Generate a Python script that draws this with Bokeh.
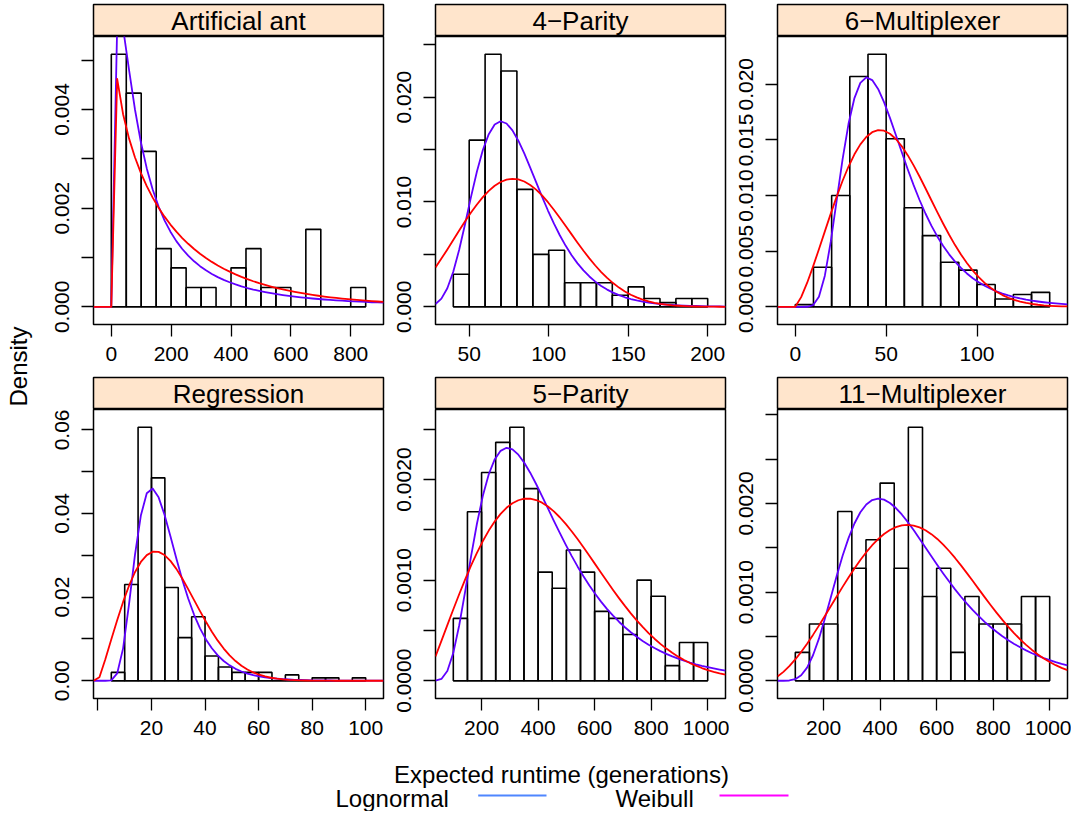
import numpy as np
from bokeh.plotting import figure
from bokeh.layouts import row, column
from bokeh.models import Range1d, FixedTicker, PrintfTickFormatter
from bokeh.core.properties import value
from bokeh.embed import file_html
from bokeh.resources import INLINE

FONT = "Liberation Sans"

# ---------------- data ----------------
panel_names = ["Artificial ant", "4\u2212Parity", "6\u2212Multiplexer",
               "Regression", "5\u2212Parity", "11\u2212Multiplexer"]

hist_start = [0, 40, 0, 5, 100, 100]
hist_width = [50, 10, 10, 5, 50, 50]

ant_density = [0.00512, 0.00433, 0.00315, 0.00118, 0.00079, 0.00039, 0.00039, 0.0,
               0.00079, 0.00118, 0.00039, 0.00039, 0.0, 0.00157, 0.0, 0.0, 0.00039]
parity4_density = [0.0031, 0.0159, 0.0241, 0.0225, 0.0112, 0.0050, 0.0054, 0.0023,
                   0.0023, 0.0023, 0.0011, 0.0019, 0.0008, 0.0004, 0.0008, 0.0008]
mux6_density = [0.0002, 0.00355, 0.0100, 0.0207, 0.0227, 0.0151, 0.0089, 0.0064,
                0.0040, 0.0033, 0.0020, 0.0007, 0.0011, 0.0013]
regression_density = [0.0020, 0.0230, 0.0606, 0.0485, 0.0223, 0.0103, 0.0153, 0.0059,
                      0.0033, 0.0020, 0.0020, 0.0020, 0.0, 0.0014, 0.0, 0.0007, 0.0007,
                      0.0, 0.0007]
parity5_density = [0.00062, 0.00168, 0.00207, 0.00237, 0.00252, 0.00191, 0.00108, 0.00092,
                   0.00130, 0.00108, 0.00069, 0.00062, 0.00046, 0.00100, 0.00084, 0.00015,
                   0.00038, 0.00038]
mux11_density = [0.00032, 0.00064, 0.00064, 0.00191, 0.00127, 0.00159, 0.00223, 0.00127,
                 0.00286, 0.00095, 0.00127, 0.00032, 0.00095, 0.00064, 0.00064, 0.00064,
                 0.00095, 0.00095]
densities = [ant_density, parity4_density, mux6_density,
             regression_density, parity5_density, mux11_density]

# fitted distributions (parameters estimated from the drawn curves)
lognormal_meanlog = [4.75, 4.343, 3.873, 3.156, 5.941, 6.175]
lognormal_sdlog = [1.20, 0.307, 0.444, 0.400, 0.518, 0.446]
weibull_shape = [0.90, 2.80, 2.30, 2.13, 2.11, 2.62]
weibull_scale = [222.0, 90.75, 59.6, 28.95, 491.0, 596.5]

x_ticks = [[0, 200, 400, 600, 800], [50, 100, 150, 200], [0, 50, 100],
           [20, 40, 60, 80, 100], [200, 400, 600, 800, 1000], [200, 400, 600, 800, 1000]]
x_minor_ticks = [[], [], [], [0], [], []]
y_ticks = [[0, 0.002, 0.004], [0, 0.01, 0.02], [0, 0.005, 0.01, 0.015, 0.02],
           [0, 0.02, 0.04, 0.06], [0, 0.001, 0.002], [0, 0.001, 0.002]]
y_minor_ticks = [[0.001, 0.003, 0.005], [0.005, 0.015, 0.025], [],
                 [0.01, 0.03, 0.05], [0.0005, 0.0015, 0.0025],
                 [0.0005, 0.0015, 0.0025, 0.003]]
y_label_format = ["%.3f", "%.3f", "%.3f", "%.2f", "%.4f", "%.4f"]

x_title = "Expected runtime (generations)"
y_title = "Density"
legend_labels = ["Lognormal", "Weibull"]
legend_colors = ["#4f86ff", "#ff00ff"]

LOGN_COLOR = "#6000ff"
WEIB_COLOR = "#ff0000"
STRIP_BG = "#ffe5cc"


def lognormal_pdf(x, mu, s):
    out = np.zeros_like(x)
    pos = x > 0
    xp = x[pos]
    out[pos] = np.exp(-(np.log(xp) - mu) ** 2 / (2 * s * s)) / (xp * s * np.sqrt(2 * np.pi))
    return out


def weibull_pdf(x, k, lam):
    out = np.zeros_like(x)
    pos = x > 0
    z = x[pos] / lam
    out[pos] = (k / lam) * z ** (k - 1) * np.exp(-z ** k)
    return out


# ---------------- geometry (pixels) ----------------
FW, SH = 290, 32
FH = [288, 289]
col_borders = [(55, 4), (48, 4), (48, 4)]
row_bottom = [52, 52]
strip_top = [4, 1]
LEFT_W = 38


def style_axis(ax):
    ax.axis_line_color = None
    ax.major_tick_out = 12
    ax.major_tick_in = 0
    ax.minor_tick_out = 12
    ax.minor_tick_in = 0
    ax.major_tick_line_color = "black"
    ax.minor_tick_line_color = "black"
    ax.major_tick_line_width = 1.3
    ax.minor_tick_line_width = 1.3
    ax.major_label_text_font = FONT
    ax.major_label_text_font_size = "21px"
    ax.major_label_text_color = "black"


def make_strip(i, c, r):
    lb, rb = col_borders[c]
    s = figure(width=lb + FW + rb, height=SH + strip_top[r],
               x_range=Range1d(0, 1), y_range=Range1d(0, 1),
               x_axis_type=None, y_axis_type=None, title=None,
               min_border_left=lb, min_border_right=rb,
               min_border_top=strip_top[r], min_border_bottom=0,
               background_fill_color=STRIP_BG, border_fill_color="white",
               outline_line_color="black", outline_line_width=1.5,
               toolbar_location=None, output_backend="svg")
    s.text(x=[0.5], y=[0.5], text=[panel_names[i]], text_align="center",
           text_baseline="middle", text_font=value(FONT),
           text_font_size="26px", text_color="black")
    return s


def make_panel(i, c, r):
    lb, rb = col_borders[c]
    bb = row_bottom[r]
    dens = np.array(densities[i], dtype=float)
    edges = hist_start[i] + hist_width[i] * np.arange(len(dens) + 1)
    span = edges[-1] - edges[0]
    xlo, xhi = edges[0] - 0.07 * span, edges[-1] + 0.07 * span
    m = dens.max()
    p = figure(width=lb + FW + rb, height=FH[r] + bb,
               x_range=Range1d(xlo, xhi), y_range=Range1d(-0.07 * m, 1.07 * m),
               title=None, min_border_left=lb, min_border_right=rb,
               min_border_top=0, min_border_bottom=bb,
               outline_line_color="black", outline_line_width=1.5,
               background_fill_color="white", border_fill_color="white",
               toolbar_location=None, output_backend="svg")
    p.xgrid.visible = False
    p.ygrid.visible = False
    p.quad(left=edges[:-1], right=edges[1:], bottom=0, top=dens,
           fill_color=None, line_color="black", line_width=1.6)
    p.line(x=[edges[0], edges[-1]], y=[0, 0], line_color="black", line_width=1.6)
    xs = np.linspace(xlo, xhi, 50)
    p.line(xs, lognormal_pdf(xs, lognormal_meanlog[i], lognormal_sdlog[i]),
           line_color=LOGN_COLOR, line_width=1.8, line_join="round")
    p.line(xs, weibull_pdf(xs, weibull_shape[i], weibull_scale[i]),
           line_color=WEIB_COLOR, line_width=1.8, line_join="round")

    xa = p.xaxis[0]
    ya = p.yaxis[0]
    style_axis(xa)
    style_axis(ya)
    xa.ticker = FixedTicker(ticks=x_ticks[i], minor_ticks=x_minor_ticks[i])
    ya.ticker = FixedTicker(ticks=y_ticks[i], minor_ticks=y_minor_ticks[i])
    ya.formatter = PrintfTickFormatter(format=y_label_format[i])
    ya.major_label_orientation = "vertical"
    xa.major_label_standoff = 10
    ya.major_label_standoff = 12
    return p


rows = []
for r in range(2):
    strips = [make_strip(3 * r + c, c, r) for c in range(3)]
    panels = [make_panel(3 * r + c, c, r) for c in range(3)]
    rows.append(row(*strips, spacing=0))
    rows.append(row(*panels, spacing=0))
main = column(*rows, spacing=0)
main_h = sum(SH + strip_top[r] + FH[r] + row_bottom[r] for r in range(2))

# left title
d = figure(width=LEFT_W, height=main_h, x_range=Range1d(0, LEFT_W), y_range=Range1d(0, main_h),
           x_axis_type=None, y_axis_type=None, title=None, min_border=0,
           outline_line_color=None, toolbar_location=None, output_backend="svg")
d.text(x=[18], y=[main_h - 366], text=[y_title], angle=np.pi / 2,
       text_align="center", text_baseline="middle", text_font=value(FONT),
       text_font_size="24px", text_color="black")

# bottom: x title + legend
BW = LEFT_W + sum(lb + FW + rb for lb, rb in col_borders)
BH = 61
b = figure(width=BW, height=BH, x_range=Range1d(0, BW), y_range=Range1d(0, BH),
           x_axis_type=None, y_axis_type=None, title=None, min_border=0,
           outline_line_color=None, toolbar_location=None, output_backend="svg")
b.text(x=[561], y=[BH - 24], text=[x_title], text_align="center", text_baseline="middle",
       text_font=value(FONT), text_font_size="24px", text_color="black")
legend_text_x = [335, 615]
legend_line_x = [(477.7, 546), (719, 788)]
for k in range(2):
    b.text(x=[legend_text_x[k]], y=[BH - 47.5], text=[legend_labels[k]], text_align="left",
           text_baseline="middle", text_font=value(FONT), text_font_size="24px",
           text_color="black")
    b.line(x=list(legend_line_x[k]), y=[BH - 45, BH - 45], line_color=legend_colors[k],
           line_width=2)

layout = column(row(d, main, spacing=0), b, spacing=0)

open("out.html", "w").write(file_html(layout, INLINE))
